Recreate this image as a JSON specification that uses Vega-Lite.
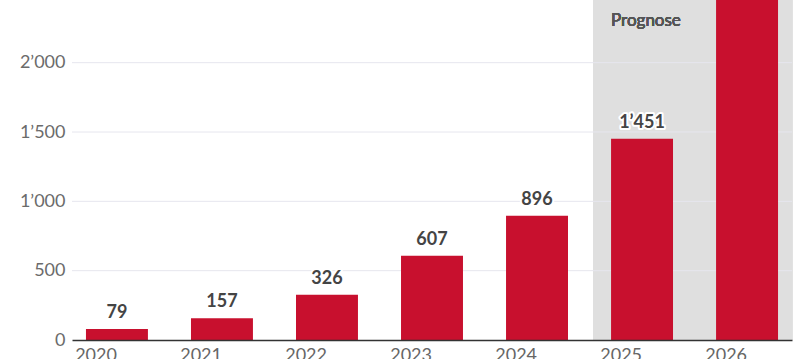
{
  "$schema": "https://vega.github.io/schema/vega-lite/v6.json",
  "width": 720,
  "height": 340,
  "autosize": {"type": "none"},
  "padding": {"left": 72, "top": 0, "right": 19, "bottom": 19},
  "background": "white",
  "config": {
    "view": {"stroke": null},
    "font": "Lato",
    "locale": {"number": {"decimal": ".", "thousands": "’", "grouping": [3], "currency": ["", ""]}}
  },
  "data": {"values": [
    {"year": "2020", "value": 79},
    {"year": "2021", "value": 157},
    {"year": "2022", "value": 326},
    {"year": "2023", "value": 607},
    {"year": "2024", "value": 896},
    {"year": "2025", "value": 1451},
    {"year": "2026", "value": 2600}
  ]},
  "layer": [
    {
      "mark": {"type": "rect", "color": "#dfdfdf"},
      "encoding": {
        "x": {"datum": "2025", "type": "ordinal", "bandPosition": -0.29},
        "x2": {"datum": "2026", "bandPosition": 1.23},
        "y": {"datum": 2452, "type": "quantitative"},
        "y2": {"datum": 0}
      }
    },
    {
      "data": {"values": [{"v": 500}, {"v": 1000}, {"v": 1500}, {"v": 2000}]},
      "mark": {"type": "rule", "color": "#e6e6ee", "strokeWidth": 1},
      "encoding": {"y": {"field": "v", "type": "quantitative"}}
    },
    {
      "mark": {"type": "text", "text": "Prognose", "align": "left", "baseline": "alphabetic", "fontSize": 17, "fontWeight": "normal", "color": "#555555"},
      "encoding": {
        "x": {"datum": "2025", "type": "ordinal", "bandPosition": 0},
        "y": {"datum": 2264, "type": "quantitative"}
      }
    },
    {
      "mark": {"type": "bar", "color": "#c8102e", "clip": true},
      "encoding": {
        "x": {
          "field": "year", "type": "ordinal",
          "scale": {"domain": ["2020", "2021", "2022", "2023", "2024", "2025", "2026"], "paddingInner": 0.41, "paddingOuter": 0.133},
          "axis": {"title": null, "labelAngle": 0, "labelFontSize": 18, "labelColor": "#666666", "labelPadding": 15, "domainColor": "#333333", "domainWidth": 1.5, "ticks": false, "grid": false}
        },
        "y": {
          "field": "value", "type": "quantitative",
          "scale": {"domain": [0, 2452], "nice": false, "zero": true},
          "axis": {"title": null, "values": [0, 500, 1000, 1500, 2000], "format": ",d", "labelFontSize": 18, "labelColor": "#6b6b6b", "labelPadding": 7, "domain": false, "ticks": false, "grid": false}
        }
      }
    },
    {
      "transform": [{"filter": "datum.year != '2026'"}],
      "mark": {"type": "text", "clip": true, "baseline": "alphabetic", "dy": -11, "fontSize": 18, "fontWeight": "bold", "stroke": "white", "strokeWidth": 4, "strokeJoin": "round", "color": "white"},
      "encoding": {
        "x": {"field": "year", "type": "ordinal"},
        "y": {"field": "value", "type": "quantitative"},
        "text": {"field": "value", "type": "quantitative", "format": ",d"}
      }
    },
    {
      "transform": [{"filter": "datum.year != '2026'"}],
      "mark": {"type": "text", "clip": true, "baseline": "alphabetic", "dy": -11, "fontSize": 18, "fontWeight": "bold", "color": "#444444"},
      "encoding": {
        "x": {"field": "year", "type": "ordinal"},
        "y": {"field": "value", "type": "quantitative"},
        "text": {"field": "value", "type": "quantitative", "format": ",d"}
      }
    }
  ]
}
